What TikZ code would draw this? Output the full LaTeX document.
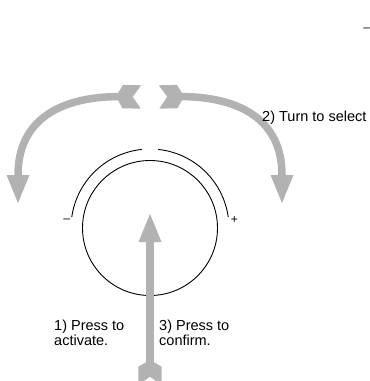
\documentclass[tikz,border=0pt]{standalone}
\usepackage{fontspec}
\setmainfont{Liberation Sans}
\usepackage{tikz}
\usetikzlibrary{arrows.meta,positioning}
\definecolor{knobgray}{RGB}{178,178,178}
% notched tail, line runs into its solid part
\pgfdeclarearrow{name=Fletch,
  setup code={\pgfarrowssettipend{0pt}\pgfarrowssetlineend{-15pt}\pgfarrowssetbackend{-25pt}\pgfarrowssetvisualbackend{-25pt}\pgfarrowshullpoint{0pt}{11.7pt}\pgfarrowshullpoint{0pt}{-11.7pt}\pgfarrowshullpoint{-25pt}{0pt}},
  drawing code={\pgfpathmoveto{\pgfpoint{0pt}{11.7pt}}\pgfpathlineto{\pgfpoint{-8.3pt}{0pt}}\pgfpathlineto{\pgfpoint{0pt}{-11.7pt}}\pgfpathlineto{\pgfpoint{-18.3pt}{-11.7pt}}\pgfpathlineto{\pgfpoint{-25pt}{0pt}}\pgfpathlineto{\pgfpoint{-18.3pt}{11.7pt}}\pgfpathclose\pgfusepathqfill}}

\begin{document}
\begin{tikzpicture}[x=1pt,y=-1pt,ring/.style={draw=black,line width=0.9pt},note/.style={font=\fontsize{14.5}{15}\selectfont,inner sep=0pt,align=left,anchor=north west},sign/.style={font=\fontsize{12}{12}\selectfont,inner sep=0pt},move/.style={draw=knobgray,line width=7.5pt,arrows={Fletch-Triangle[length=28pt,width=23pt,line width=0pt]}}]
\useasboundingbox (0,0) rectangle (370,381);
\node[ring,circle,minimum size=135pt] (knob) at (150,228) {};
\foreach \s/\e in {96/172,84/8}{\draw[ring] ([shift={(\s:79pt)}]knob.center) arc[start angle=\s,end angle=\e,radius=79pt];}
\node[sign] (minus) at (66.7,221) {\textendash};
\node[sign] (plus) at (234.3,220) {+};
\node[sign] (corner) at (366.7,29.5) {\textendash};
\coordinate (lturn) at (141,97); \coordinate (lend) at (18,203);
\coordinate (rturn) at (159,97); \coordinate (rend) at (282,203);
\coordinate (pushtail) at (150,385); \coordinate (pushtip) at (150,214);
\draw[move] (lturn) .. controls (60,95) and (18,120) .. (lend);
\draw[move] (rturn) .. controls (240,95) and (282,120) .. (rend);
\draw[move] (pushtail) -- (pushtip);
\node[note] (turn) at (262,111) {2) Turn to select};
\node[note] (activate) at (54,319.5) {1) Press to\\activate.};
\node[note] (confirm) at (159,319.5) {3) Press to\\confirm.};
\end{tikzpicture}
\end{document}
